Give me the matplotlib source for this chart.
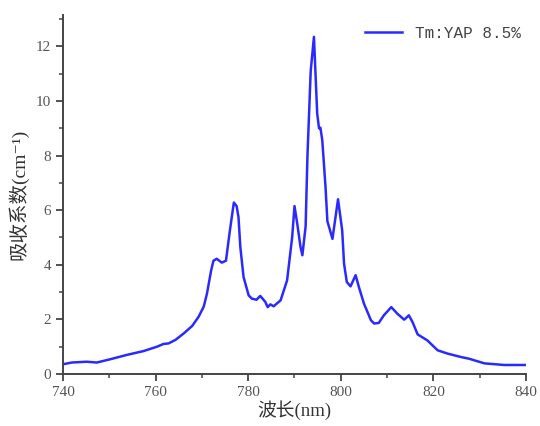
import numpy as np
import matplotlib
matplotlib.use("Agg")
import matplotlib.pyplot as plt
from matplotlib.ticker import MultipleLocator

plt.rcParams['font.family'] = ['Liberation Serif', 'Noto Sans CJK SC', 'DejaVu Sans']

# wavelength (nm) and absorption coefficient (cm^-1)
wavelength = [740.0, 740.4, 741.9, 745.1, 747.3, 750.2, 753.8, 757.4, 760.3, 761.7,
              762.8, 764.3, 766.1, 767.9, 769.3, 770.4, 771.1, 772.0, 772.5, 773.2,
              774.3, 775.2, 776.0, 776.9, 777.5, 777.9, 778.3, 779.0, 780.1, 780.8,
              781.8, 782.6, 783.7, 784.2, 784.8, 785.5, 787.0, 788.4, 789.5, 790.0,
              790.6, 791.3, 791.7, 792.4, 792.8, 793.5, 794.2, 794.9, 795.3, 795.6,
              796.0, 796.3, 796.7, 797.1, 798.2, 799.4, 800.3, 800.7, 801.3, 802.1,
              803.2, 803.9, 805.0, 806.5, 807.2, 808.2, 809.3, 810.9, 812.2, 813.7,
              814.7, 815.5, 816.6, 818.7, 820.9, 823.0, 826.0, 827.7, 831.0, 835.3,
              840.0]
absorption = [0.36, 0.37, 0.42, 0.45, 0.42, 0.54, 0.70, 0.84, 1.00, 1.10,
              1.12, 1.25, 1.49, 1.76, 2.10, 2.47, 2.95, 3.80, 4.15, 4.22,
              4.08, 4.15, 5.20, 6.28, 6.15, 5.75, 4.65, 3.55, 2.88, 2.76,
              2.72, 2.86, 2.64, 2.45, 2.55, 2.48, 2.70, 3.43, 5.02, 6.15,
              5.50, 4.65, 4.35, 5.40, 8.00, 11.10, 12.35, 9.54, 9.00, 9.02,
              8.56, 7.83, 6.85, 5.60, 4.95, 6.40, 5.26, 4.04, 3.37, 3.21,
              3.62, 3.19, 2.58, 1.97, 1.85, 1.87, 2.15, 2.45, 2.21, 1.99,
              2.15, 1.90, 1.45, 1.23, 0.87, 0.75, 0.62, 0.56, 0.39, 0.33,
              0.33]

fig = plt.figure(figsize=(5.4, 4.26), dpi=100)
ax = fig.add_axes([63 / 540, 52 / 426, 463 / 540, 359 / 426])

ax.plot(wavelength, absorption, color='#2a2aff', lw=1.8, label='Tm:YAP 8.5%',
        solid_joinstyle='round')

ax.set_xlim(740, 840)
ax.set_ylim(0, 13.15)
ax.xaxis.set_major_locator(MultipleLocator(20))
ax.xaxis.set_minor_locator(MultipleLocator(10))
ax.yaxis.set_major_locator(MultipleLocator(2))
ax.yaxis.set_minor_locator(MultipleLocator(1))

for s in ['top', 'right']:
    ax.spines[s].set_visible(False)
for s in ['left', 'bottom']:
    ax.spines[s].set_color('#444444')
    ax.spines[s].set_linewidth(1.4)

ax.tick_params(which='major', direction='out', length=5, width=1.3, colors='#444444',
               labelcolor='#555555', labelsize=11)
ax.tick_params(which='minor', direction='out', length=3, width=1.1, colors='#444444')

ax.set_xlabel('波长(nm)', fontsize=13.5, color='#333333', labelpad=1)
ax.set_ylabel('吸收系数(cm\u207b\u00b9)', fontsize=14, color='#333333', labelpad=5)

leg = ax.legend(loc='upper right', frameon=False, handlelength=2.3,
                bbox_to_anchor=(1.02, 1.01),
                prop={'family': ['Liberation Mono', 'DejaVu Sans Mono'], 'size': 11.5})
for t in leg.get_texts():
    t.set_color('#444444')

fig.savefig('out.png', dpi=100)
